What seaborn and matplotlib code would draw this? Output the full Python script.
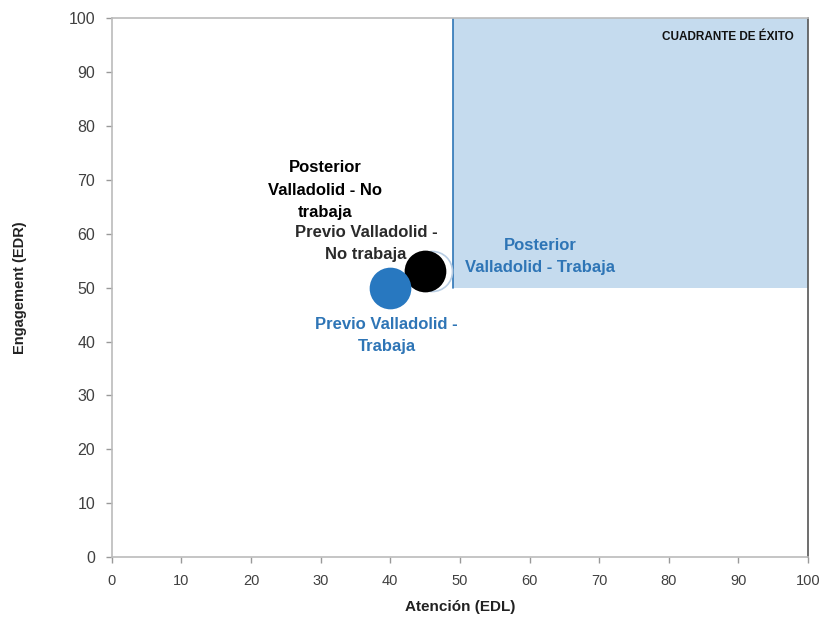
import matplotlib
matplotlib.use("Agg")
import matplotlib.pyplot as plt
import seaborn as sns
import pandas as pd
from matplotlib.patches import Rectangle

series = ["Previo Valladolid - No trabaja", "Posterior Valladolid - Trabaja",
          "Posterior Valladolid - No trabaja", "Previo Valladolid - Trabaja"]
atencion = [45, 46, 45, 40]
engagement = [53, 53, 53, 50]
face_colors = ["#ffffff", "#ffffff", "#000000", "#2878c0"]
edge_colors = ["#d0d0d0", "#b8cde3", "#000000", "#2878c0"]

x_ticks = list(range(0, 101, 10))
y_ticks = list(range(0, 101, 10))
quad_x, quad_y = 49, 50

df = pd.DataFrame({"serie": series, "x": atencion, "y": engagement})

sns.set_style("white")
plt.rcParams["font.family"] = ["Liberation Sans", "DejaVu Sans"]
fig, ax = plt.subplots(figsize=(8.22, 6.28), dpi=100)
fig.subplots_adjust(left=0.136, right=0.983, top=0.971, bottom=0.113)

ax.add_patch(Rectangle((quad_x, quad_y), 100 - quad_x, 100 - quad_y,
                       facecolor="#c5dbee", edgecolor="none", zorder=0))
ax.plot([quad_x, quad_x], [quad_y, 100], color="#2e75b6", lw=1.2, zorder=1)

for i, row in df.iterrows():
    sns.scatterplot(x=[row.x], y=[row.y], ax=ax, s=830, color=face_colors[i],
                    edgecolor=edge_colors[i], linewidth=1.2, zorder=3 + i, legend=False)

ax.set_xlim(0, 100)
ax.set_ylim(0, 100)
ax.set_xticks(x_ticks)
ax.set_yticks(y_ticks)
ax.tick_params(axis="both", length=4, width=1, color="#999999",
               labelcolor="#404040", direction="out", bottom=True, left=True, pad=8)
ax.tick_params(axis="y", labelsize=11.5)
ax.tick_params(axis="x", labelsize=10.5)
for s in ["left", "bottom", "top"]:
    ax.spines[s].set_color("#bbbbbb")
    ax.spines[s].set_linewidth(1.2)
ax.spines["right"].set_color("#555555")
ax.spines["right"].set_linewidth(1.2)

ax.set_xlabel("Atención (EDL)", fontsize=11, fontweight="bold", color="#222222", labelpad=9)
ax.set_ylabel("Engagement (EDR)", fontsize=10.5, fontweight="bold", color="#222222", labelpad=30)

ax.text(30.6, 68.1, "Posterior\nValladolid - No\ntrabaja", ha="center", va="center",
        fontsize=12, fontweight="bold", color="#000000", linespacing=1.6)
ax.text(36.5, 58.2, "Previo Valladolid -\nNo trabaja", ha="center", va="center",
        fontsize=12, color="#2a2a2a", linespacing=1.6, fontweight="bold")
ax.text(39.5, 41.1, "Previo Valladolid -\nTrabaja", ha="center", va="center",
        fontsize=12, fontweight="bold", color="#2e75b6", linespacing=1.6)
ax.text(61.5, 55.8, "Posterior\nValladolid - Trabaja", ha="center", va="center",
        fontsize=12, fontweight="bold", color="#2e75b6", linespacing=1.6)
ax.text(98, 96.6, "CUADRANTE DE ÉXITO", ha="right", va="center",
        fontsize=8.5, fontweight="bold", color="#111111")

fig.savefig("out.png", dpi=100)
